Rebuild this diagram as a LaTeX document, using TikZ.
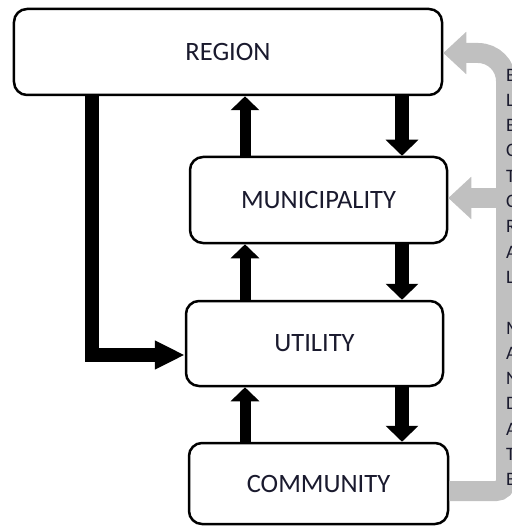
\documentclass[tikz,border=0pt]{standalone}
\usepackage{fontspec}
\setmainfont{Carlito}
\usetikzlibrary{arrows.meta}
\definecolor{flowgrey}{HTML}{C0C0C0}
\definecolor{labelink}{HTML}{1A1A2E}

\begin{document}
\begin{tikzpicture}[x=1bp,y=-1bp,
  box/.style={draw=black, line width=2.5bp, rounded corners=13bp, fill=white,
    inner sep=0pt, font=\fontsize{26.5bp}{30bp}\selectfont, text=labelink},
  uparrow/.style={line width=11bp, -{Triangle[width=28bp,length=14bp]}},
  downarrow/.style={line width=14bp, -{Triangle[width=32bp,length=16bp]}},
  feedarrow/.style={line width=14bp, line join=miter, -{Triangle[width=27bp,length=30bp]}},
  greyband/.style={draw=flowgrey, line width=20bp},
  greytip/.style={-{Triangle[width=41bp,length=23bp]}},
  sideletter/.style={anchor=west, inner sep=0pt, font=\fontsize{19bp}{19bp}\selectfont, text=labelink}]

\useasboundingbox (0,0) rectangle (512,526);

% the four levels
\node[box, minimum width=428bp, minimum height=86bp] (region)    at (228,52)      {REGION};
\node[box, minimum width=257bp, minimum height=86bp] (muni)      at (318.5,200)   {MUNICIPALITY};
\node[box, minimum width=257bp, minimum height=85bp] (utility)   at (314.5,343.5) {UTILITY};
\node[box, minimum width=259bp, minimum height=81bp] (community) at (318.5,483.5) {COMMUNITY};

% helper columns and rows
\coordinate (colup)   at (245,0);
\coordinate (coldown) at (402,0);
\coordinate (feedx)   at (92,0);
\coordinate (feedy)   at (0,355);
\coordinate (bandx)   at (506,0);
\coordinate (bandbot) at (0,491);
\coordinate (bandtop) at (0,53);
\coordinate (bandmid) at (0,198);

% grey return path from the community back to the upper levels
\draw[greyband, greytip] (community.east |- bandbot)
  [rounded corners=10bp] -- (bandx |- bandbot)
  [rounded corners=28bp] -- (bandx |- bandtop)
  [sharp corners] -- (region.east |- bandtop);
\draw[greyband, greytip] (bandx |- bandmid) -- (muni.east |- bandmid);

% upward flows
\draw[uparrow] (muni.north -| colup)      -- (region.south -| colup);
\draw[uparrow] (utility.north -| colup)   -- (muni.south -| colup);
\draw[uparrow] (community.north -| colup) -- (utility.south -| colup);

% downward flows
\draw[downarrow] (region.south -| coldown)  -- (muni.north -| coldown);
\draw[downarrow] (muni.south -| coldown)    -- (utility.north -| coldown);
\draw[downarrow] (utility.south -| coldown) -- (community.north -| coldown);

% direct link from region to utility
\draw[feedarrow] (region.south -| feedx) -- (feedx |- feedy) -- (utility.west |- feedy);

% side text column
\foreach \ch [count=\i from 0] in {B,L,B,C,T,C,R,A,L,{},M,A,N,D,A,T,B} {
  \node[sideletter] (side\i) at (506, 75+25.3*\i) {\ch};
}
\end{tikzpicture}
\end{document}
